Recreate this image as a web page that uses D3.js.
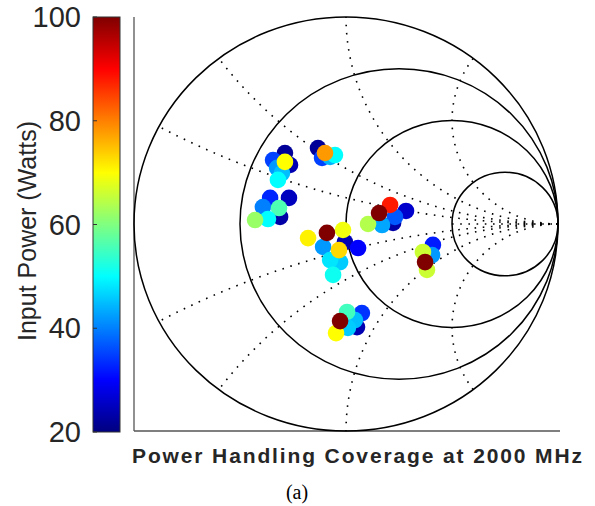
<!DOCTYPE html>
<html>
  <head>
    <style>
      body { margin: 0; background: #fff; }
      text { font-family: "Liberation Sans", Arial, sans-serif; }
    </style>
  </head>

  <body>

    <svg class="surface" width="595" height="506"></svg>

    <script src="https://cdn.jsdelivr.net/npm/d3@7"></script>
    <script>

      // grid values of the smith chart
      const resistances = [0, 1 / 3, 1, 3]
      const reactances = [0.25, 0.5, 1, 2]
      const powerTicks = [20, 40, 60, 80, 100]

      // measured points: reflection coefficient (re, im) and input power
      const gammaRe = [
        -0.288, -0.264, -0.344, -0.325, -0.302, -0.321, -0.288,
        -0.132, -0.113, -0.075, -0.052, -0.099,
        -0.311, -0.269, -0.358, -0.392, -0.316, -0.368, -0.429,
        -0.005, 0.057, -0.108, -0.028, -0.075, -0.061, -0.179, -0.014, -0.090, -0.033,
        0.222, 0.283, 0.231, 0.170, 0.208, 0.104, 0.156,
        0.410, 0.406, 0.363, 0.382, 0.373,
        0.052, 0.075, 0.042, 0.005, 0.009, -0.047, -0.028
      ]
      const gammaIm = [
        0.343, 0.285, 0.309, 0.271, 0.246, 0.213, 0.300,
        0.367, 0.319, 0.324, 0.333, 0.343,
        0.034, 0.126, 0.126, 0.082, 0.077, 0.024, 0.019,
        -0.087, -0.116, -0.111, -0.184, -0.174, -0.246, -0.068, -0.029, -0.043, -0.126,
        0.005, 0.063, 0.034, -0.005, 0.092, 0.000, 0.053,
        -0.101, -0.150, -0.135, -0.222, -0.184,
        -0.498, -0.430, -0.464, -0.425, -0.502, -0.527, -0.469
      ]
      const power = [
        22, 24, 35, 42, 45, 50, 70,
        22, 35, 44, 50, 78,
        23, 25, 33, 40, 56, 50, 62,
        24, 30, 42, 46, 48, 51, 71, 69, 100, 73,
        23, 26, 37, 43, 88, 64, 100,
        32, 42, 66, 66, 100,
        24, 34, 45, 55, 46, 70, 100
      ]

      const surface = d3.select('.surface')

      const x = d3.scaleLinear().domain([-1, 1]).range([134, 558])
      const y = d3.scaleLinear().domain([-1, 1]).range([431, 17])

      // matlab jet
      const clamp = v => Math.max(0, Math.min(1, v))
      const jet = t => {
        const r = clamp(1.5 - Math.abs(4 * t - 3))
        const g = clamp(1.5 - Math.abs(4 * t - 2))
        const b = clamp(1.5 - Math.abs(4 * t - 1))
        return d3.rgb(r * 255, g * 255, b * 255).formatHex()
      }
      const color = d3.scaleSequential(jet).domain([20, 100])

      // axes lines
      surface.append('line')
        .attr('x1', 134).attr('x2', 134).attr('y1', 17).attr('y2', 431)
        .attr('stroke', '#555').attr('stroke-width', 1.3)
      surface.append('line')
        .attr('x1', 134).attr('x2', 560).attr('y1', 431).attr('y2', 431)
        .attr('stroke', '#555').attr('stroke-width', 1.3)

      const grid = surface.append('g')

      // reactance arcs (dotted)
      const line = d3.line().x(d => x(d[0])).y(d => y(d[1]))
      const arcPoints = xv => {
        const c = 1 / xv
        const ex = (xv * xv - 1) / (xv * xv + 1)
        const ey = 2 * xv / (xv * xv + 1)
        let tEnd = Math.atan2(ey - c, ex - 1)
        if (tEnd > -Math.PI / 2) tEnd -= 2 * Math.PI
        return d3.range(0, 101).map(i => {
          const t = -Math.PI / 2 + (tEnd + Math.PI / 2) * i / 100
          return [1 + c * Math.cos(t), c + c * Math.sin(t)]
        })
      }
      reactances.forEach(xv => {
        const pts = arcPoints(xv)
        ;[pts, pts.map(p => [p[0], -p[1]])].forEach(p => {
          grid.append('path')
            .attr('d', line(p))
            .attr('fill', 'none')
            .attr('stroke', '#000')
            .attr('stroke-width', 1.6)
            .attr('stroke-dasharray', '1.6 6.6')
        })
      })
      grid.append('path')
        .attr('d', line([[0.5, 0], [1, 0]]))
        .attr('stroke', '#000')
        .attr('stroke-width', 1.6)
        .attr('stroke-dasharray', '1.6 6.6')

      // resistance circles
      grid.selectAll('ellipse').data(resistances).enter()
        .append('ellipse')
        .attr('cx', r => x(r / (1 + r)))
        .attr('cy', y(0))
        .attr('rx', r => x(1 / (1 + r)) - x(0))
        .attr('ry', r => y(0) - y(1 / (1 + r)))
        .attr('fill', 'none')
        .attr('stroke', '#000')
        .attr('stroke-width', 1.5)

      // points
      surface.append('g').selectAll('circle').data(power).enter()
        .append('circle')
        .attr('cx', (d, i) => x(gammaRe[i]))
        .attr('cy', (d, i) => y(gammaIm[i]))
        .attr('r', 8.3)
        .attr('fill', d => color(d))

      // colorbar
      const cb = { x: 93, w: 27 }
      const cy = d3.scaleLinear().domain([20, 100]).range([432, 17])
      const grad = surface.append('defs').append('linearGradient')
        .attr('id', 'jet').attr('x1', 0).attr('x2', 0).attr('y1', 1).attr('y2', 0)
      grad.selectAll('stop').data(d3.range(0, 65)).enter()
        .append('stop')
        .attr('offset', d => d / 64)
        .attr('stop-color', d => jet(d / 64))
      surface.append('rect')
        .attr('x', cb.x).attr('y', cy(100))
        .attr('width', cb.w).attr('height', cy(20) - cy(100))
        .attr('fill', 'url(#jet)')
        .attr('stroke', '#333').attr('stroke-width', 1)

      const ticks = surface.append('g')
      ticks.selectAll('line').data(powerTicks).enter()
        .append('line')
        .attr('x1', cb.x).attr('x2', cb.x + 4)
        .attr('y1', d => cy(d)).attr('y2', d => cy(d))
        .attr('stroke', '#333')
      ticks.selectAll('text').data(powerTicks).enter()
        .append('text')
        .attr('x', 81)
        .attr('y', d => cy(d) + 10)
        .attr('text-anchor', 'end')
        .attr('font-size', 29)
        .attr('fill', '#262626')
        .text(d => d)

      surface.append('text')
        .attr('transform', 'translate(36,231) rotate(-90)')
        .attr('text-anchor', 'middle')
        .attr('font-size', 25)
        .attr('fill', '#262626')
        .text('Input Power (Watts)')

      surface.append('text')
        .attr('x', 132).attr('y', 463)
        .attr('font-size', 21)
        .attr('font-weight', 'bold')
        .attr('fill', '#262626')
        .attr('textLength', 450)
        .attr('lengthAdjust', 'spacing')
        .text('Power Handling Coverage at 2000 MHz')

      surface.append('text')
        .attr('x', 297).attr('y', 499)
        .attr('text-anchor', 'middle')
        .attr('font-size', 20)
        .style('font-family', '"Liberation Serif", "Times New Roman", serif')
        .text('(a)')

    </script>
  </body>

</html>
